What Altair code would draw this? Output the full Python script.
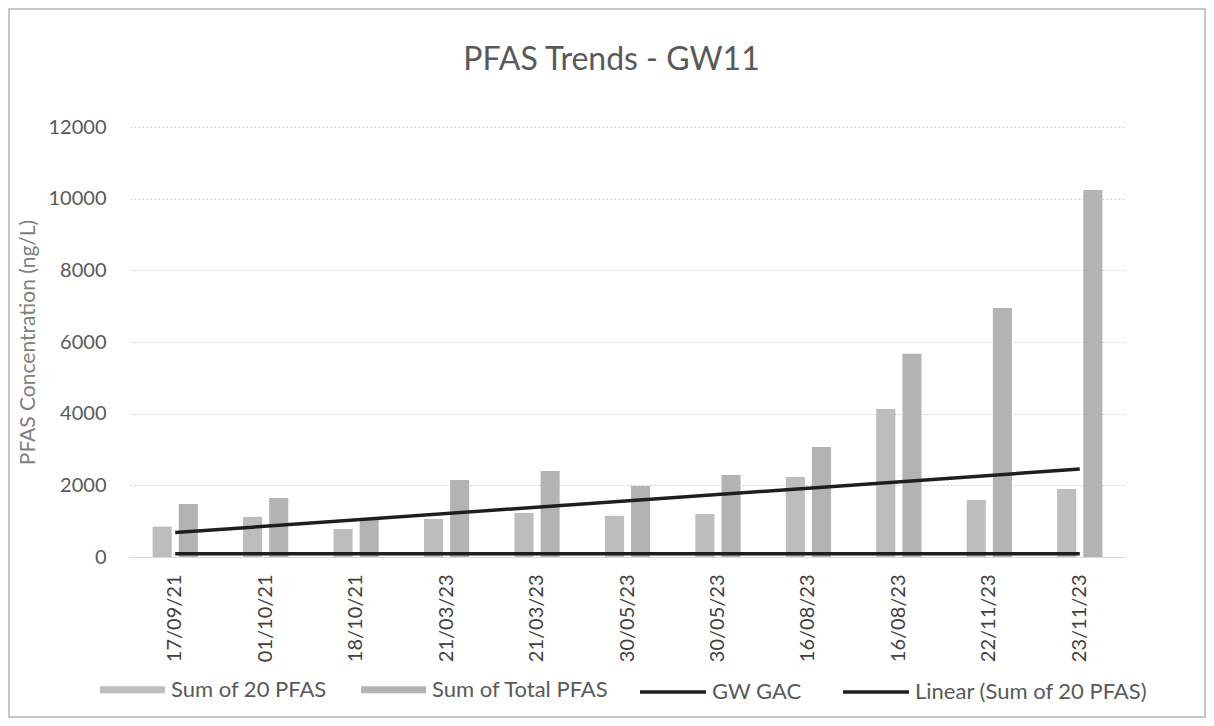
import altair as alt
import pandas as pd

# ---- data ----
dates = ["17/09/21", "01/10/21", "18/10/21", "21/03/23", "21/03/23", "30/05/23",
         "30/05/23", "16/08/23", "16/08/23", "22/11/23", "23/11/23"]
sum_20_pfas = [850, 1120, 780, 1060, 1230, 1150, 1200, 2230, 4130, 1590, 1900]
sum_total_pfas = [1480, 1650, 1060, 2150, 2400, 1980, 2290, 3070, 5670, 6950, 10240]
gw_gac = [90, 90, 90, 90, 90, 90, 90, 90, 90, 90, 90]
bar_series = ["Sum of 20 PFAS", "Sum of Total PFAS"]
line_series = ["GW GAC", "Linear (Sum of 20 PFAS)"]
y_ticks = [0, 2000, 4000, 6000, 8000, 10000, 12000]

idx = list(range(len(dates)))
bar_df = pd.DataFrame({
    "idx": idx * 2,
    "series": [bar_series[0]] * len(idx) + [bar_series[1]] * len(idx),
    "value": sum_20_pfas + sum_total_pfas,
})
gac_df = pd.DataFrame({"idx": idx, "gac": gw_gac, "line": [line_series[0]] * len(idx)})
trend_df = pd.DataFrame({"idx": idx, "sum20": sum_20_pfas})

FONT = "Lato"
YTITLE = "PFAS Concentration (ng/L)"
label_expr = "[" + ",".join("'%s'" % d for d in dates) + "][datum.value]"

x_enc = alt.X("idx:O", title=None,
              scale=alt.Scale(paddingInner=0.5, paddingOuter=0.25),
              axis=alt.Axis(labelExpr=label_expr, labelAngle=270, labelFontSize=20,
                            labelColor="#404040", labelPadding=17, ticks=False,
                            domainColor="#d9d9d9", grid=False, labelFont=FONT))
y_scale = alt.Scale(domain=[0, 12000])
y_axis = alt.Axis(values=y_ticks, format="d", labelFontSize=20, labelColor="#595959",
                  labelPadding=24, ticks=False, domain=False, grid=True,
                  gridDash=[2, 2], gridColor="#cfcfcf", titleFontSize=21,
                  titleColor="#7f7f7f", titleFontWeight="normal", titlePadding=10,
                  labelFont=FONT, titleFont=FONT)

border = alt.Chart(pd.DataFrame({"a": [0]})).mark_rect(
    fill="transparent", stroke="#b5b5b5", strokeWidth=1.5
).encode(x=alt.value(-121), x2=alt.value(1075), y=alt.value(-118), y2=alt.value(590))

bars = alt.Chart(bar_df).mark_bar().encode(
    x=x_enc,
    xOffset=alt.XOffset("series:N", sort=bar_series,
                        scale=alt.Scale(paddingInner=0.27, paddingOuter=0)),
    y=alt.Y("value:Q", scale=y_scale, axis=y_axis, title=YTITLE),
    color=alt.Color("series:N",
                    scale=alt.Scale(domain=bar_series, range=["#bdbdbd", "#b3b3b3"]),
                    legend=alt.Legend(orient="none", legendX=-30, legendY=530,
                                      direction="horizontal", title=None,
                                      symbolType="M-1,-0.11H1V0.11H-1Z", symbolSize=4225,
                                      symbolStrokeWidth=0, labelFontSize=22,
                                      labelFont=FONT, labelColor="#595959",
                                      labelOffset=6, columnPadding=34, padding=0,
                                      labelLimit=0)),
)

line_scale = alt.Scale(domain=line_series, range=["#1e1e1e", "#1e1e1e"])
line_legend = alt.Legend(orient="none", legendX=508, legendY=530, direction="horizontal",
                         title=None, symbolType="stroke", symbolSize=4356,
                         symbolStrokeWidth=3.5, labelFontSize=22, labelFont=FONT,
                         labelColor="#595959", labelOffset=4, columnPadding=34,
                         padding=0, labelLimit=0)

gac = alt.Chart(gac_df).mark_line(strokeWidth=3.5).encode(
    x=x_enc,
    y=alt.Y("gac:Q", scale=y_scale, axis=y_axis, title=YTITLE),
    stroke=alt.Stroke("line:N", scale=line_scale, legend=line_legend),
)

trend = alt.Chart(trend_df).transform_regression(
    "idx", "sum20", method="linear"
).transform_calculate(
    line="'Linear (Sum of 20 PFAS)'"
).mark_line(strokeWidth=3.5).encode(
    x=x_enc,
    y=alt.Y("sum20:Q", scale=y_scale, axis=y_axis, title=YTITLE),
    stroke=alt.Stroke("line:N", scale=line_scale, legend=line_legend),
)

chart = alt.layer(border, bars, gac, trend).properties(
    width=995, height=430,
    autosize=alt.AutoSizeParams(type="none"),
    padding={"left": 122, "top": 119, "right": 81, "bottom": 161},
    title=alt.Title("PFAS Trends - GW11", fontSize=32, font=FONT, fontWeight="normal",
                    color="#595959", anchor="middle", baseline="alphabetic",
                    offset=-94, dx=-16),
).configure(font=FONT, background="white").configure_view(stroke=None)

chart.save("out.html", embed_options={"renderer": "svg", "actions": False})
